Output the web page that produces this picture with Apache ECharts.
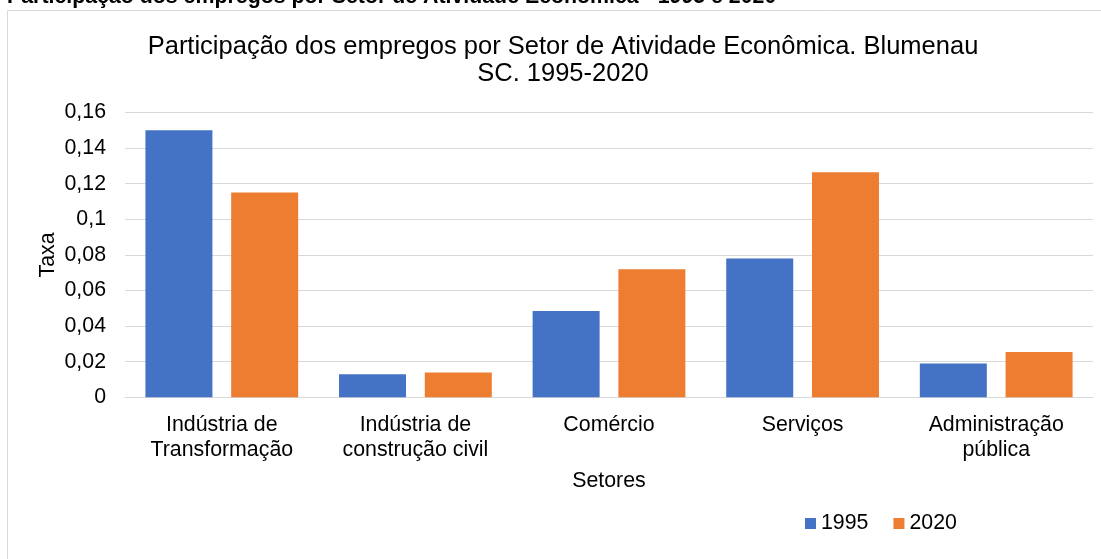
<!DOCTYPE html>
<html>
<head>
<meta charset="utf-8">
<script src="https://cdn.jsdelivr.net/npm/echarts@6/dist/echarts.min.js"></script>
<style>
  html, body { margin: 0; padding: 0; background: #fff; }
  #chart { width: 1101px; height: 559px; }
</style>
</head>
<body>
<div id="chart"></div>
<script>
// dados
const setores = ['Indústria de\nTransformação', 'Indústria de\nconstrução civil', 'Comércio', 'Serviços', 'Administração\npública']
const anos = ['1995', '2020']
const valores1995 = [0.150, 0.013, 0.0485, 0.078, 0.019]
const valores2020 = [0.115, 0.014, 0.072, 0.1265, 0.0254]
const yTicks = [0, 0.02, 0.04, 0.06, 0.08, 0.1, 0.12, 0.14, 0.16]

const fonte = 'Liberation Sans, Arial, sans-serif'
const chart = echarts.init(document.getElementById('chart'))

const option = {
  animation: false,
  textStyle: { fontFamily: fonte },
  graphic: [
    {
      type: 'rect',
      shape: { x: 7.5, y: 10.5, width: 1100, height: 560 },
      style: { fill: 'none', stroke: '#d9d9d9', lineWidth: 1 }
    },
    {
      type: 'text',
      x: 7, y: -3,
      style: {
        text: 'Participação dos empregos por Setor de Atividade Econômica - 1995 e 2020',
        font: 'bold 21.33px ' + fonte,
        fill: '#000',
        verticalAlign: 'middle'
      }
    }
  ],
  title: {
    text: 'Participação dos empregos por Setor de Atividade Econômica. Blumenau\nSC. 1995-2020',
    left: 558,
    textAlign: 'center',
    top: 28,
    textStyle: { fontSize: 25.5, fontWeight: 'normal', color: '#000', lineHeight: 27, fontFamily: fonte }
  },
  legend: {
    data: anos,
    left: 800,
    top: 508,
    itemWidth: 11,
    itemHeight: 11,
    itemGap: 25,
    icon: 'rect',
    textStyle: { fontSize: 21.33, color: '#000', fontFamily: fonte }
  },
  grid: { left: 125, right: 8, top: 112.5, bottom: 161.7 },
  xAxis: {
    type: 'category',
    data: setores,
    name: 'Setores',
    nameLocation: 'middle',
    nameGap: 73,
    nameTextStyle: { fontSize: 21.33, color: '#000' },
    axisLine: { lineStyle: { color: '#d9d9d9' } },
    axisTick: { show: false },
    axisLabel: { fontSize: 21.33, color: '#000', lineHeight: 25, margin: 15, interval: 0 }
  },
  yAxis: {
    type: 'value',
    min: yTicks[0],
    max: yTicks[yTicks.length - 1],
    interval: 0.02,
    name: 'Taxa',
    nameLocation: 'middle',
    nameGap: 66,
    nameMoveOverlap: false,
    nameTextStyle: { fontSize: 21.33, color: '#000' },
    axisLine: { show: false },
    axisTick: { show: false },
    splitLine: { lineStyle: { color: '#d9d9d9', width: 1 } },
    axisLabel: {
      fontSize: 21.33, color: '#000', margin: 19,
      formatter: v => String(+v.toFixed(2)).replace('.', ',')
    }
  },
  series: [
    {
      name: anos[0], type: 'bar', data: valores1995,
      barWidth: 67, barGap: '28%',
      itemStyle: { color: '#4472C4' }
    },
    {
      name: anos[1], type: 'bar', data: valores2020,
      barWidth: 67, barGap: '28%',
      itemStyle: { color: '#ED7D31' }
    }
  ]
}

option && chart.setOption(option)
</script>
</body>
</html>
